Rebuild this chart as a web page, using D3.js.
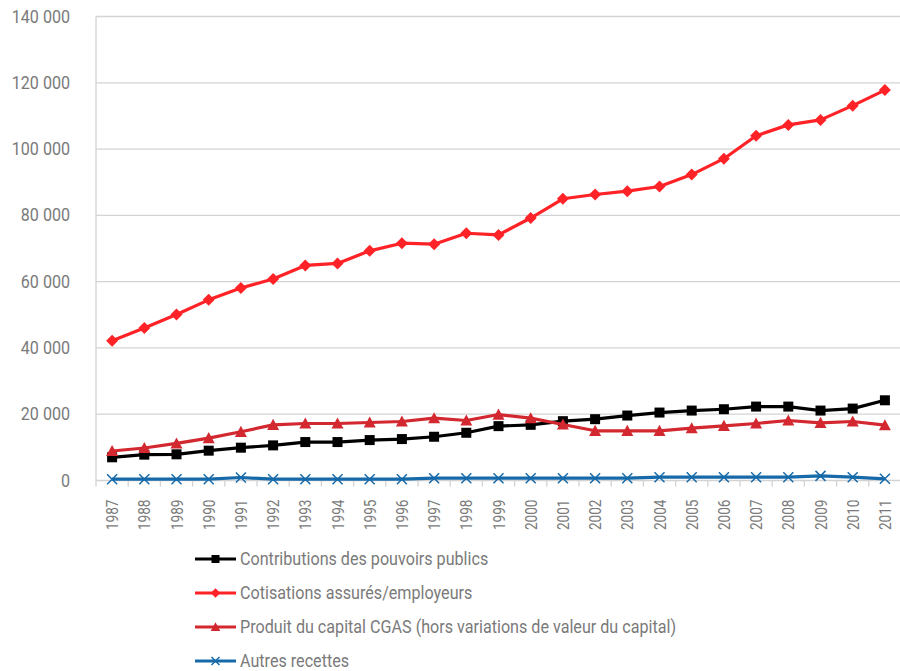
<!DOCTYPE html>
<html><head><meta charset="utf-8">
<script src="https://cdn.jsdelivr.net/npm/d3@7"></script>
<style>
html,body{margin:0;padding:0;background:#fff;}
svg{display:block;font-family:Roboto, "Noto Sans", sans-serif;}
</style></head>
<body>
<svg id="chart" width="900" height="671"></svg>
<script>
const years = ["1987","1988","1989","1990","1991","1992","1993","1994","1995","1996","1997","1998","1999","2000","2001","2002","2003","2004","2005","2006","2007","2008","2009","2010","2011"];
const contributions = [7000,7800,7900,9000,9900,10600,11600,11600,12200,12500,13200,14400,16400,16800,17900,18500,19600,20500,21100,21500,22300,22300,21100,21700,24200];
const cotisations = [42200,46000,50100,54500,58100,60800,64900,65500,69300,71600,71300,74600,74100,79200,85000,86300,87300,88700,92300,97100,104000,107300,108800,113100,117800];
const produit = [8900,9800,11200,12800,14700,16800,17200,17200,17500,17800,18800,18100,19900,18800,16900,15000,15000,15000,15800,16500,17200,18100,17400,17800,16700];
const autres = [400,400,400,400,900,400,400,400,400,400,700,700,700,700,700,700,700,1000,1000,1000,1000,1000,1400,1000,500];
const yTicks = [0,20000,40000,60000,80000,100000,120000,140000];
const seriesNames = ["Contributions des pouvoirs publics","Cotisations assurés/employeurs","Produit du capital CGAS (hors variations de valeur du capital)","Autres recettes"];

const series = [
  {name: seriesNames[0], values: contributions, color: "#000000", marker: "square"},
  {name: seriesNames[1], values: cotisations, color: "#ff2226", marker: "diamond"},
  {name: seriesNames[2], values: produit, color: "#d3282f", marker: "triangle"},
  {name: seriesNames[3], values: autres, color: "#166aa9", marker: "cross"}
];

const svg = d3.select("#chart");
const pLeft = 96, pRight = 901, pTop = 16.5, pBottom = 480.5;
const x = d3.scaleBand().domain(years).range([pLeft, pRight]).padding(0);
const y = d3.scaleLinear().domain([0, 140000]).range([pBottom, pTop]);
const cx = d => x(d) + x.bandwidth() / 2;
const grid = "#d3d3d3";
const textColor = "#7a7a7a";
const fmt = v => d3.format(",")(v).replace(/,/g, " ");

// gridlines
svg.append("g").selectAll("line").data(yTicks).join("line")
  .attr("x1", pLeft).attr("x2", pRight)
  .attr("y1", d => y(d)).attr("y2", d => y(d))
  .attr("stroke", grid).attr("stroke-width", 1.3);

// left axis line
svg.append("line").attr("x1", pLeft).attr("x2", pLeft).attr("y1", pTop).attr("y2", pBottom + 6)
  .attr("stroke", grid).attr("stroke-width", 1.3);

// x ticks at band boundaries
svg.append("g").selectAll("line").data(years).join("line")
  .attr("x1", d => x(d) + x.step()).attr("x2", d => x(d) + x.step())
  .attr("y1", pBottom).attr("y2", pBottom + 6)
  .attr("stroke", grid).attr("stroke-width", 1.3);

// y labels
svg.append("g").selectAll("g").data(yTicks).join("g")
  .attr("transform", d => `translate(70,${y(d) + 6}) scale(0.92,1)`)
  .append("text").attr("text-anchor", "end").attr("font-size", 17.5)
  .attr("fill", textColor).text(d => fmt(d));

// x labels rotated
svg.append("g").selectAll("g").data(years).join("g")
  .attr("transform", d => `translate(${cx(d) + 6},${pBottom + 19}) rotate(-90) scale(0.8,1)`)
  .append("text").attr("text-anchor", "end").attr("font-size", 17)
  .attr("fill", textColor).text(d => d);

// markers
function drawMarker(g, type, color, px, py, legend) {
  const s = legend ? 0.8 : 1;
  if (type === "square") {
    g.append("rect").attr("x", px - 5 * s).attr("y", py - 5 * s).attr("width", 10 * s).attr("height", 10 * s).attr("fill", color);
  } else if (type === "diamond") {
    const r = 6 * s;
    g.append("path").attr("d", `M${px},${py - r}L${px + r},${py}L${px},${py + r}L${px - r},${py}Z`).attr("fill", color);
  } else if (type === "triangle") {
    const r = 6 * s;
    g.append("path").attr("d", `M${px},${py - r}L${px + r},${py + r * 0.85}L${px - r},${py + r * 0.85}Z`).attr("fill", color);
  } else if (type === "cross") {
    const r = 5 * s;
    g.append("path").attr("d", `M${px - r},${py - r}L${px + r},${py + r}M${px - r},${py + r}L${px + r},${py - r}`)
      .attr("stroke", color).attr("stroke-width", 1.5).attr("fill", "none");
  }
}

const line = d3.line().x((d, i) => cx(years[i])).y(d => y(d));
// draw order: autres, contributions, produit, cotisations
[3, 0, 2, 1].forEach(k => {
  const s = series[k];
  const g = svg.append("g");
  g.append("path").datum(s.values).attr("d", line).attr("fill", "none")
    .attr("stroke", s.color).attr("stroke-width", 3.2).attr("stroke-linejoin", "round");
  s.values.forEach((v, i) => drawMarker(g, s.marker, s.color, cx(years[i]), y(v), false));
});

// legend
const legY = [559, 593, 627, 661];
series.forEach((s, i) => {
  const g = svg.append("g");
  g.append("line").attr("x1", 195).attr("x2", 236).attr("y1", legY[i]).attr("y2", legY[i])
    .attr("stroke", s.color).attr("stroke-width", 3.2);
  drawMarker(g, s.marker, s.color, 215.5, legY[i], true);
  g.append("g").attr("transform", `translate(240,${legY[i] + 6}) scale(0.922,1)`)
    .append("text").attr("font-size", 17.5).attr("fill", textColor).text(s.name);
});
</script>
</body></html>
